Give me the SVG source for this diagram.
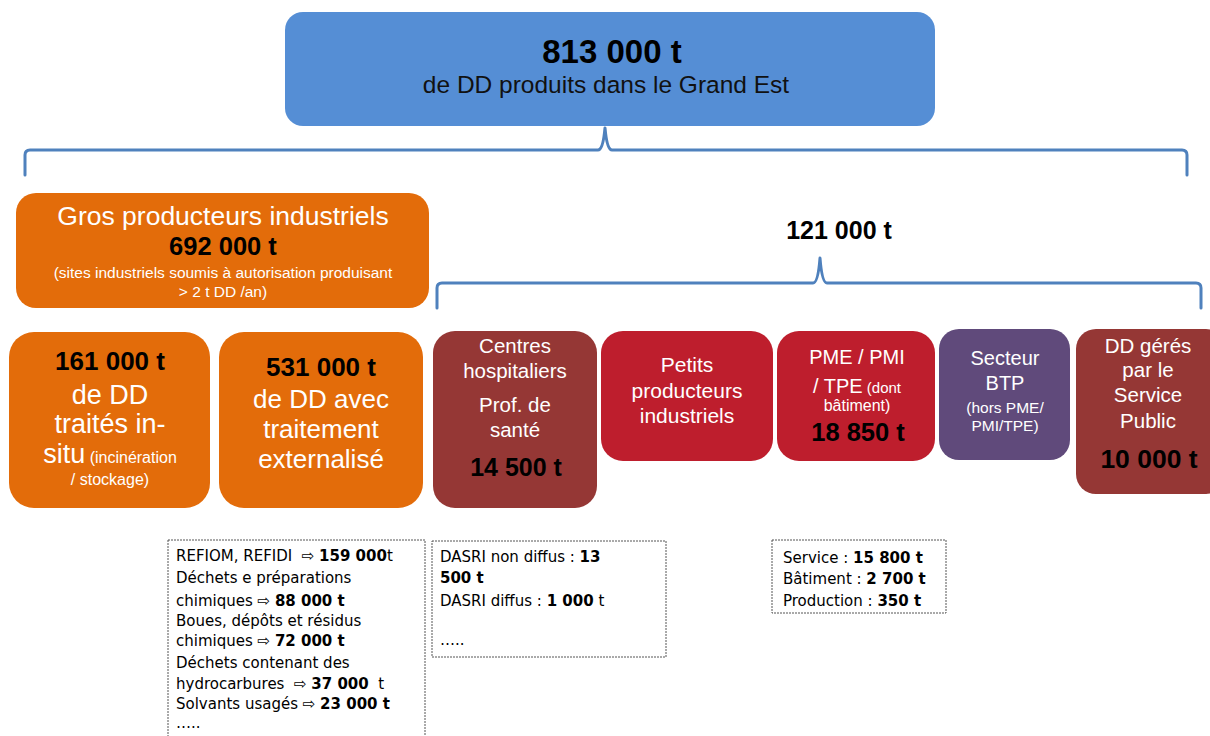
<svg xmlns="http://www.w3.org/2000/svg" width="1210" height="736" viewBox="0 0 1210 736">
<style>
text{font-family:"Liberation Sans",Arial,sans-serif;text-anchor:middle}
.w{fill:#ffffff}
.k{fill:#000000;font-weight:bold}
.s{font-size:15.5px}
.m{font-size:20.5px}
.l{font-size:26px}
.g{font-size:26.5px}
.brace{fill:none;stroke:#4f81bd;stroke-width:3;stroke-linejoin:round;stroke-linecap:round}
.dot{fill:#ffffff;stroke:#555555;stroke-width:1;stroke-dasharray:2 1}
.t{font-family:"DejaVu Sans",Verdana,sans-serif;font-size:15px;text-anchor:start;fill:#000000;white-space:pre}
.t tspan.b{font-weight:bold}
</style>
<rect width="1210" height="736" fill="#ffffff"/>

<g id="connectors">
<path class="brace" d="M25,175 V155 Q25,150 30,150 H598 Q603,150 605,128 Q607,150 612,150 H1182 Q1187,150 1187,155 V175"/>
<path class="brace" d="M437,308 V288 Q437,283 442,283 H813 Q818,283 820,258 Q822,283 827,283 H1196 Q1201,283 1201,288 V308"/>
</g>

<g id="total">
<rect x="285" y="12" width="650" height="114" rx="18" fill="#558ed5"/>
<text x="612" y="63" class="k" style="font-size:33px">813 000 t</text>
<text x="606" y="93" style="font-size:24.5px" fill="#111111">de DD produits dans le Grand Est</text>
</g>

<g id="label-121000">
<text x="839" y="239" class="k" style="font-size:25px">121 000 t</text>
</g>

<g id="gros">
<rect x="16" y="193" width="413" height="115" rx="20" fill="#e36c0a"/>
<text x="223" y="225" class="w" style="font-size:26.5px">Gros producteurs industriels</text>
<text x="223" y="255" class="k" style="font-size:25.5px">692 000 t</text>
<text x="223" y="278" class="w" style="font-size:15.5px">(sites industriels soumis à autorisation produisant</text>
<text x="223" y="297" class="w" style="font-size:15.5px">&gt; 2 t DD /an)</text>
</g>

<g id="insitu">
<rect x="9" y="332" width="201" height="176" rx="25" fill="#e36c0a"/>
<text x="110" y="370" class="k l">161 000 t</text>
<text x="110" y="404" class="w" style="font-size:27px">de DD</text>
<text x="110" y="433" class="w" style="font-size:27px">traités in-</text>
<text x="110" y="463" class="w"><tspan style="font-size:27px">situ</tspan><tspan style="font-size:16px"> (incinération</tspan></text>
<text x="110" y="485" class="w" style="font-size:16px">/ stockage)</text>
</g>

<g id="externalise">
<rect x="219" y="332" width="204" height="176" rx="25" fill="#e36c0a"/>
<text x="321" y="376" class="k l">531 000 t</text>
<text x="321" y="408" class="w" style="font-size:26px">de DD avec</text>
<text x="321" y="438" class="w" style="font-size:26px">traitement</text>
<text x="321" y="468" class="w" style="font-size:26px">externalisé</text>
</g>

<g id="hospitaliers">
<rect x="433" y="331" width="164" height="177" rx="22" fill="#953735"/>
<text x="515" y="353" class="w m">Centres</text>
<text x="515" y="378" class="w m">hospitaliers</text>
<text x="515" y="412" class="w m">Prof. de</text>
<text x="515" y="437" class="w m">santé</text>
<text x="516" y="476" class="k" style="font-size:25px">14 500 t</text>
</g>

<g id="petits">
<rect x="601" y="331" width="172" height="130" rx="22" fill="#be1e2d"/>
<text x="687" y="372" class="w" style="font-size:21px">Petits</text>
<text x="687" y="398" class="w" style="font-size:21px">producteurs</text>
<text x="687" y="423" class="w" style="font-size:21px">industriels</text>
</g>

<g id="pme">
<rect x="777" y="331" width="158" height="130" rx="22" fill="#be1e2d"/>
<text x="857" y="364" class="w" style="font-size:20px">PME / PMI</text>
<text x="857" y="393" class="w"><tspan style="font-size:20px">/ TPE</tspan><tspan style="font-size:15px"> (dont</tspan></text>
<text x="857" y="411" class="w" style="font-size:16px">bâtiment)</text>
<text x="858" y="441" class="k" style="font-size:25.5px">18 850 t</text>
</g>

<g id="btp">
<rect x="939" y="329" width="131" height="131" rx="20" fill="#604a7b"/>
<text x="1005" y="365" class="w" style="font-size:20px">Secteur</text>
<text x="1005" y="390" class="w" style="font-size:20px">BTP</text>
<text x="1005" y="413" class="w s">(hors PME/</text>
<text x="1005" y="431" class="w s">PMI/TPE)</text>
</g>

<g id="service-public">
<rect x="1076" y="329" width="150" height="165" rx="20" fill="#953735"/>
<text x="1148" y="353" class="w m">DD gérés</text>
<text x="1148" y="377" class="w m">par le</text>
<text x="1148" y="402" class="w m">Service</text>
<text x="1148" y="428" class="w m">Public</text>
<text x="1149" y="468" class="k g">10 000 t</text>
</g>

<g id="detail-gros">
<rect class="dot" x="168" y="540" width="257" height="200"/>
<text class="t" x="176" y="561">REFIOM, REFIDI  ⇨ <tspan class="b">159 000</tspan>t</text>
<text class="t" x="176" y="583">Déchets e préparations</text>
<text class="t" x="176" y="606">chimiques ⇨ <tspan class="b">88 000 t</tspan></text>
<text class="t" x="176" y="626">Boues, dépôts et résidus</text>
<text class="t" x="176" y="646">chimiques ⇨ <tspan class="b">72 000 t</tspan></text>
<text class="t" x="176" y="668">Déchets contenant des</text>
<text class="t" x="176" y="689">hydrocarbures  ⇨ <tspan class="b">37 000</tspan>  t</text>
<text class="t" x="176" y="709">Solvants usagés ⇨ <tspan class="b">23 000 t</tspan></text>
<text class="t" x="176" y="728">…..</text>
</g>

<g id="detail-hosp">
<rect class="dot" x="432" y="541" width="234" height="116"/>
<text class="t" x="440" y="562">DASRI non diffus : <tspan class="b">13</tspan></text>
<text class="t" x="440" y="583"><tspan class="b">500 t</tspan></text>
<text class="t" x="440" y="606">DASRI diffus : <tspan class="b">1 000</tspan> t</text>
<text class="t" x="440" y="645">…..</text>
</g>

<g id="detail-pme">
<rect class="dot" x="772" y="540" width="174" height="73"/>
<text class="t" x="783" y="563">Service : <tspan class="b">15 800 t</tspan></text>
<text class="t" x="783" y="584">Bâtiment : <tspan class="b">2 700 t</tspan></text>
<text class="t" x="783" y="606">Production : <tspan class="b">350 t</tspan></text>
</g>
</svg>
